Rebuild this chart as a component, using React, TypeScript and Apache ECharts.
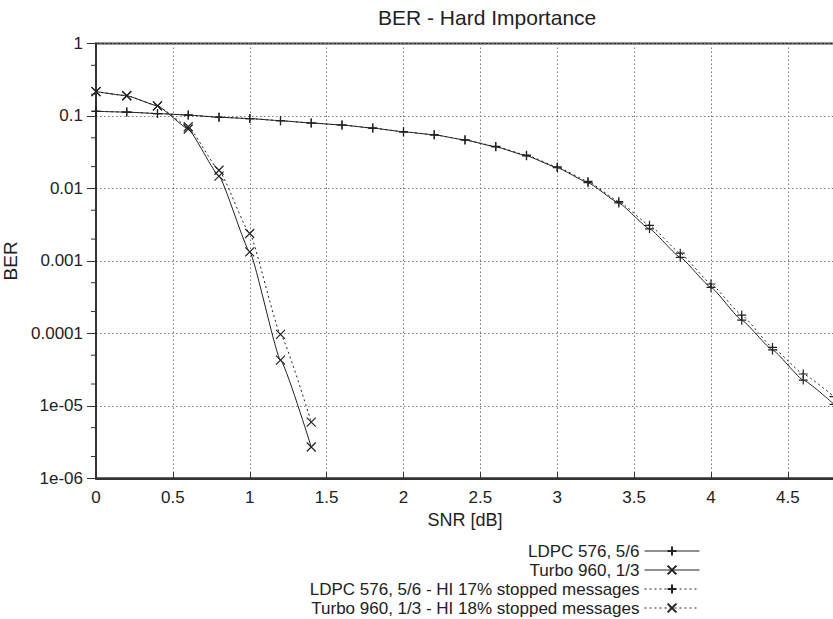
import React, { useEffect, useRef } from 'react';
import * as echarts from 'echarts';

const snrLdpc = [0, 0.2, 0.4, 0.6, 0.8, 1.0, 1.2, 1.4, 1.6, 1.8, 2.0, 2.2, 2.4, 2.6, 2.8, 3.0, 3.2, 3.4, 3.6, 3.8, 4.0, 4.2, 4.4, 4.6, 4.8];
const berLdpc = [0.116, 0.113, 0.108, 0.103, 0.096, 0.092, 0.086, 0.080, 0.075, 0.068, 0.0605, 0.055, 0.0466, 0.0375, 0.0282, 0.0193, 0.0120, 0.0063, 0.00277, 0.00112, 0.00043, 0.000152, 5.9e-5, 2.27e-5, 1.05e-5];
const berLdpcHi = [0.116, 0.113, 0.108, 0.103, 0.096, 0.092, 0.086, 0.080, 0.075, 0.068, 0.0605, 0.055, 0.0468, 0.038, 0.0288, 0.0198, 0.0125, 0.0066, 0.0031, 0.00128, 0.00048, 0.000179, 6.4e-5, 2.75e-5, 1.34e-5];

const snrTurbo = [0, 0.2, 0.4, 0.6, 0.8, 1.0, 1.2, 1.4];
const berTurbo = [0.217, 0.19, 0.138, 0.066, 0.0148, 0.00133, 4.27e-5, 2.7e-6];
const berTurboHi = [0.217, 0.19, 0.138, 0.071, 0.0178, 0.00239, 9.7e-5, 5.95e-6];

const seriesNames = [
  'LDPC 576, 5/6',
  'Turbo 960, 1/3',
  'LDPC 576, 5/6 - HI 17% stopped messages',
  'Turbo 960, 1/3 - HI 18% stopped messages',
];

const yTickLabels = ['1e-06', '1e-05', '0.0001', '0.001', '0.01', '0.1', '1'];
const yMinorTicks = [2e-6, 5e-6, 2e-5, 5e-5, 2e-4, 5e-4, 2e-3, 5e-3, 2e-2, 5e-2, 0.2, 0.5];

const FONT = '"Liberation Sans", Arial, Helvetica, sans-serif';
const INK = '#222';

const PLUS = 'path://M0,5L10,5M5,0L5,10';
const CROSS = 'path://M0,0L10,10M10,0L0,10';

function zip(xs: number[], ys: number[]) {
  return xs.map((x, i) => [x, ys[i]]);
}

function lineSeries(name: string, data: number[][], symbol: string, dotted: boolean) {
  return {
    name,
    type: 'line',
    data,
    symbol,
    symbolSize: 9,
    showAllSymbol: true,
    smooth: 0.12,
    smoothMonotone: 'x',
    lineStyle: { color: INK, width: 1, type: dotted ? [2, 3] : 'solid' },
    itemStyle: { color: 'transparent', borderColor: INK, borderWidth: 1.2 },
    emphasis: { disabled: true },
    z: 3,
  };
}

export default function App() {
  const ref = useRef<HTMLDivElement>(null);
  useEffect(() => {
    document.body.style.margin = '0';
    const chart = echarts.init(ref.current!, null, { renderer: 'svg' });
    const option: any = {
      animation: false,
      backgroundColor: '#fff',
      textStyle: { fontFamily: FONT, color: INK },
      title: {
        text: 'BER - Hard Importance',
        left: 373,
        top: 2,
        textStyle: { fontFamily: FONT, fontSize: 21, fontWeight: 'normal', color: INK },
      },
      grid: {
        left: 96,
        right: -1,
        top: 43.5,
        bottom: 140.7,
        containLabel: false,
        outerBoundsMode: 'none',
        show: true,
        borderColor: '#333',
        borderWidth: 2,
        backgroundColor: 'transparent',
      },
      legend: {
        data: seriesNames,
        orient: 'vertical',
        align: 'right',
        right: 133,
        top: 542,
        padding: 0,
        itemWidth: 55,
        itemHeight: 11,
        itemGap: 1,
        selectedMode: false,
        lineStyle: { width: 1 },
        textStyle: { fontFamily: FONT, fontSize: 17, color: INK, lineHeight: 18 },
      },
      xAxis: {
        type: 'value',
        min: 0,
        max: 4.8,
        interval: 0.5,
        name: 'SNR [dB]',
        nameLocation: 'middle',
        nameGap: 32,
        nameTextStyle: { fontFamily: FONT, fontSize: 18, color: INK },
        axisLine: { show: true, onZero: false, lineStyle: { color: '#333', width: 2 } },
        axisTick: { show: true, inside: true, length: 6, lineStyle: { color: '#333' } },
        axisLabel: {
          fontFamily: FONT,
          fontSize: 17,
          color: INK,
          margin: 11,
          showMaxLabel: false,
        },
        splitLine: { show: true, lineStyle: { color: '#777', type: [1.5, 2.5], width: 1 } },
      },
      yAxis: {
        type: 'log',
        logBase: 10,
        min: 1e-6,
        max: 1,
        interval: 1,
        name: 'BER',
        nameLocation: 'middle',
        nameGap: 70,
        nameTextStyle: { fontFamily: FONT, fontSize: 19, color: INK },
        axisLine: { show: true, lineStyle: { color: '#333', width: 2 } },
        axisTick: { show: true, inside: false, length: 9, lineStyle: { color: '#333' } },
        axisLabel: {
          fontFamily: FONT,
          fontSize: 17,
          color: INK,
          margin: 13,
          formatter: (v: number) => {
            const e = Math.round(Math.log10(v));
            return yTickLabels[e + 6] ?? '';
          },
        },
        splitLine: { show: true, lineStyle: { color: '#777', type: [1.5, 2.5], width: 1 } },
      },
      series: [
        lineSeries(seriesNames[0], zip(snrLdpc, berLdpc), PLUS, false),
        lineSeries(seriesNames[1], zip(snrTurbo, berTurbo), CROSS, false),
        lineSeries(seriesNames[2], zip(snrLdpc, berLdpcHi), PLUS, true),
        lineSeries(seriesNames[3], zip(snrTurbo, berTurboHi), CROSS, true),
        {
          type: 'custom',
          name: 'minorTicks',
          silent: true,
          clip: false,
          data: yMinorTicks.map((v) => [0, v]),
          renderItem: (params: any, api: any) => {
            const p = api.coord([api.value(0), api.value(1)]);
            return {
              type: 'line',
              shape: { x1: p[0] - 5, y1: p[1], x2: p[0] + 1, y2: p[1] },
              style: { stroke: '#333', lineWidth: 1 },
            };
          },
          z: 4,
        },
      ],
    };
    chart.setOption(option);
    return () => chart.dispose();
  }, []);
  return <div ref={ref} style={{ width: 833, height: 619 }} />;
}
